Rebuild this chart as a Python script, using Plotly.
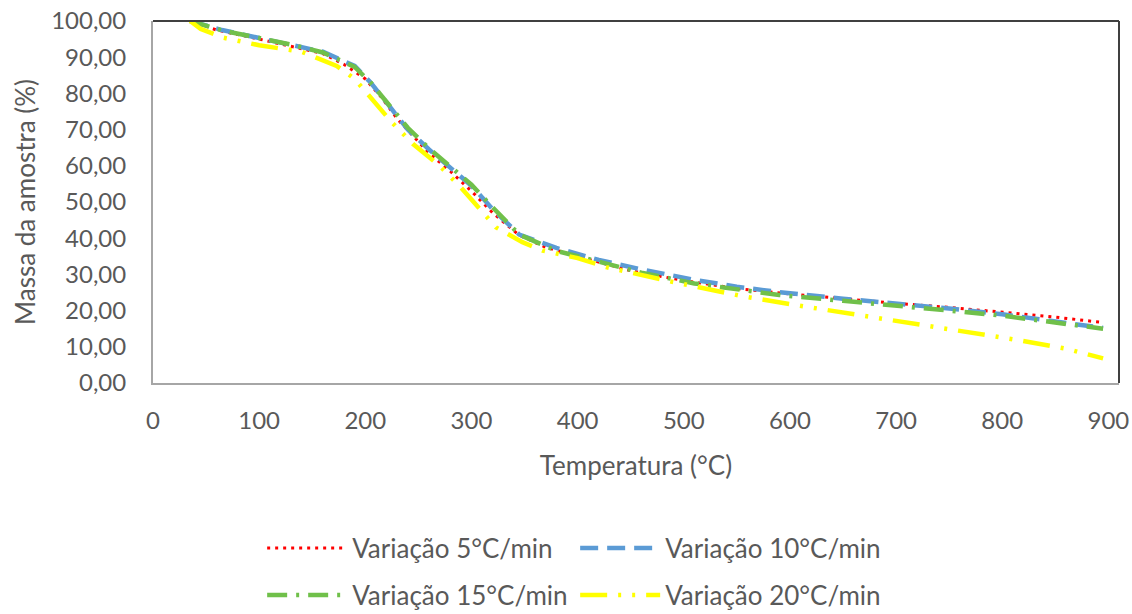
import plotly.graph_objects as go

# ---- data ----
t_5 = [35, 60, 100, 130, 160, 180, 200, 215, 230, 260, 280, 300, 320, 345, 370, 400, 450, 500, 550, 600, 650, 700, 750, 800, 850, 895]
m_5 = [100, 97.5, 95.0, 93.0, 91.0, 88.0, 84.0, 79.0, 73.0, 63.5, 58.5, 53.0, 47.0, 40.8, 37.5, 35.0, 31.0, 28.3, 26.1, 24.6, 23.2, 22.0, 20.9, 19.6, 18.2, 16.7]

t_10 = [35, 65, 100, 130, 160, 190, 205, 220, 240, 260, 280, 300, 320, 345, 380, 420, 460, 510, 550, 590, 650, 700, 750, 800, 840, 895]
m_10 = [100, 97.5, 95.3, 93.5, 91.5, 87.6, 83.0, 77.5, 70.0, 64.5, 59.5, 54.5, 48.0, 41.0, 37.3, 34.0, 31.4, 28.5, 26.6, 25.1, 23.3, 22.0, 20.6, 19.0, 17.4, 15.2]

t_15 = [35, 65, 100, 130, 160, 190, 205, 220, 240, 260, 280, 300, 320, 345, 380, 420, 460, 510, 550, 590, 650, 700, 750, 800, 860, 895]
m_15 = [100, 97.4, 95.3, 93.5, 91.3, 87.3, 83.0, 77.5, 70.5, 64.8, 59.8, 54.8, 48.5, 41.0, 36.5, 33.5, 30.5, 27.5, 25.8, 24.3, 22.7, 21.5, 20.0, 18.6, 16.2, 15.0]

t_20 = [35, 45, 66, 100, 140, 173, 190, 207, 225, 245, 270, 290, 310, 323, 348, 367, 400, 427, 490, 555, 606, 650, 690, 750, 816, 860, 895]
m_20 = [100, 97.8, 95.4, 93.3, 91.5, 87.6, 84.0, 78.0, 72.0, 66.0, 60.0, 54.0, 47.5, 43.0, 38.9, 36.6, 34.5, 32.0, 27.9, 24.0, 21.5, 19.5, 17.8, 15.0, 11.8, 9.5, 6.8]

series_names = ["Variação 5°C/min", "Variação 10°C/min", "Variação 15°C/min", "Variação 20°C/min"]
x_ticks = [0, 100, 200, 300, 400, 500, 600, 700, 800, 900]
y_ticks = [0, 10, 20, 30, 40, 50, 60, 70, 80, 90, 100]

FONT = "Lato"
TXT = "#595959"

fig = go.Figure()
fig.add_trace(go.Scatter(x=t_5, y=m_5, mode="lines", name=series_names[0],
                         line=dict(color="#ff0000", width=3, dash="3px,5px"), legend="legend"))
fig.add_trace(go.Scatter(x=t_10, y=m_10, mode="lines", name=series_names[1],
                         line=dict(color="#5b9bd5", width=4.5, dash="18px,9px"), legend="legend"))
fig.add_trace(go.Scatter(x=t_15, y=m_15, mode="lines", name=series_names[2],
                         line=dict(color="#70c04a", width=4.5, dash="20px,9px,3px,9px"), legend="legend2"))
fig.add_trace(go.Scatter(x=t_20, y=m_20, mode="lines", name=series_names[3],
                         line=dict(color="#ffff00", width=4.5, dash="27px,11px,3px,11px,3px,11px"), legend="legend2"))

legend_common = dict(orientation="h", xanchor="left", yanchor="middle",
                     font=dict(family=FONT, size=26, color=TXT),
                     itemwidth=80, entrywidth=218, entrywidthmode="pixels",
                     bgcolor="rgba(0,0,0,0)", tracegroupgap=0)

fig.update_layout(
    width=1132, height=614,
    margin=dict(l=153, r=13, t=21, b=231, autoexpand=False),
    paper_bgcolor="white", plot_bgcolor="white",
    separators=",.",
    font=dict(family=FONT, color=TXT),
    showlegend=True,
    legend=dict(x=0.113, y=-0.456, **legend_common),
    legend2=dict(x=0.113, y=-0.586, **legend_common),
    xaxis=dict(range=[0, 910], tickvals=x_ticks, showgrid=False, zeroline=False,
               showline=True, linecolor="#a6a6a6", linewidth=2, automargin=False,
               ticks="outside", ticklen=15, tickcolor="rgba(0,0,0,0)", ticklabeloverflow="allow",
               tickfont=dict(family=FONT, size=24, color=TXT),
               title=dict(text="Temperatura (°C)", font=dict(family=FONT, size=26, color=TXT), standoff=24)),
    yaxis=dict(range=[0, 100], tickvals=y_ticks, tickformat=".2f", showgrid=False, zeroline=False,
               showline=True, linecolor="#a6a6a6", linewidth=2, automargin=False,
               ticks="outside", ticklen=20, tickcolor="rgba(0,0,0,0)", ticklabeloverflow="allow",
               tickfont=dict(family=FONT, size=24, color=TXT),
               title=dict(text="Massa da amostra (%)", font=dict(family=FONT, size=26, color=TXT), standoff=8)),
    shapes=[
        dict(type="line", xref="paper", yref="paper", x0=0, x1=1, y0=1, y1=1,
             line=dict(color="#404040", width=2)),
        dict(type="line", xref="paper", yref="paper", x0=1, x1=1, y0=0, y1=1,
             line=dict(color="#404040", width=2)),
    ],
)

fig.write_html("out.html", config={"displayModeBar": False},
               post_script="document.body.style.margin='0';")
